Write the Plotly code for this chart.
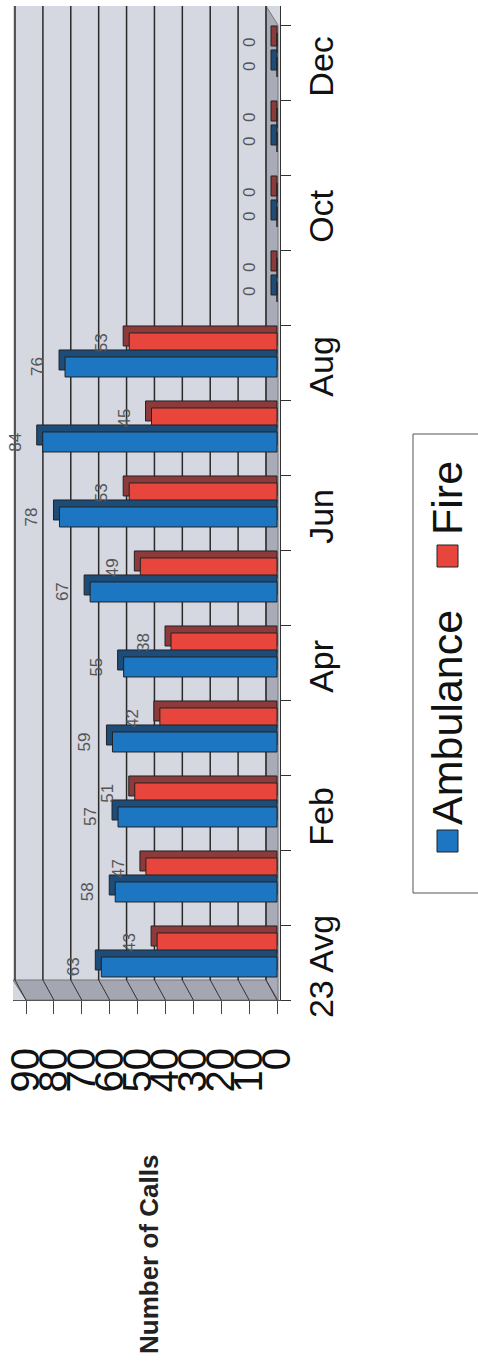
import plotly.graph_objects as go

# ---- data -------------------------------------------------------------
categories = ["23 Avg", "Jan", "Feb", "Mar", "Apr", "May", "Jun",
              "Jul", "Aug", "Sep", "Oct", "Nov", "Dec"]
ambulance = [63, 58, 57, 59, 55, 67, 78, 84, 76, 0, 0, 0, 0]
fire = [43, 47, 51, 42, 38, 49, 53, 45, 53, 0, 0, 0, 0]
value_ticks = [0, 10, 20, 30, 40, 50, 60, 70, 80, 90]
series_names = ["Ambulance", "Fire"]

# ---- styling ----------------------------------------------------------
W, H = 478, 1368
FONT = "Arial, Liberation Sans, sans-serif"
BLUE, BLUE_DARK = "#1c76c2", "#1d4c78"
RED, RED_DARK = "#e8463c", "#8c3a3a"
WALL = "#d5d7e1"
SIDE = "#a9abb8"

# pixel geometry of the plotting box
PX_LEFT, PX_RIGHT = 13, 280
PX_TOP, PX_BOTTOM = 6, 1000
PX_ZERO, PX_NINETY = 277, 26
SCALE = (PX_ZERO - PX_NINETY) / 90.0          # px per unit
CAT_PX = 75.0                                  # px per category

x_range = [(PX_ZERO - PX_LEFT) / SCALE, (PX_ZERO - PX_RIGHT) / SCALE]
y_range = [-0.5, -0.5 + (PX_BOTTOM - PX_TOP) / CAT_PX]

DEPTH_X = 6 / SCALE        # 3-D depth, value units
DEPTH_Y = 7 / CAT_PX       # 3-D depth, category units
BACK_X = 11 / SCALE        # back wall offset
BAR_W = 20 / CAT_PX


def xp(px):
    return px / W


def yp(py):
    return 1 - py / H


fig = go.Figure()

series = [
    ("Fire", fire, RED, RED_DARK, 0.127),
    ("Ambulance", ambulance, BLUE, BLUE_DARK, -0.193),
]
for name, vals, col, dark, off in series:
    # receding top/side face of each 3-D bar
    fig.add_trace(go.Bar(
        y=categories, x=[v + DEPTH_X for v in vals], orientation="h",
        offset=off + DEPTH_Y, width=BAR_W,
        marker=dict(color=dark, line=dict(color="#222", width=1)),
        hoverinfo="skip", showlegend=False,
    ))
    # front face
    fig.add_trace(go.Bar(
        y=categories, x=vals, orientation="h", name=name,
        offset=off, width=BAR_W,
        marker=dict(color=col, line=dict(color="#222", width=1)),
        showlegend=False,
    ))

annotations = []
# value labels, rotated with the chart
for name, vals, col, dark, off in series:
    for c, v in zip(categories, vals):
        annotations.append(dict(
            x=v, y=c, xref="x", yref="y", text=str(v), showarrow=False,
            xanchor="center", yanchor="middle",
            textangle=-90, xshift=-27, yshift=(off + BAR_W / 2) * CAT_PX,
            font=dict(family=FONT, size=17, color="#555"),
        ))

# axis title
annotations.append(dict(
    x=xp(149), y=yp(1255), xref="paper", yref="paper",
    xanchor="center", yanchor="middle",
    text="<b>Number of Calls</b>", showarrow=False, textangle=-90,
    font=dict(family=FONT, size=26, color="#222"),
))

shapes = []
# right side wall
shapes.append(dict(
    type="path", xref="paper", yref="paper", layer="between",
    path=f"M {xp(266)},{yp(PX_TOP)} L {xp(278)},{yp(25)} L {xp(278)},{yp(PX_BOTTOM)} "
         f"L {xp(266)},{yp(980)} Z",
    fillcolor=SIDE, line=dict(color="#777", width=1),
))
# floor
shapes.append(dict(
    type="path", xref="paper", yref="paper", layer="between",
    path=f"M {xp(PX_LEFT)},{yp(980)} L {xp(266)},{yp(980)} L {xp(278)},{yp(PX_BOTTOM)} "
         f"L {xp(PX_NINETY)},{yp(PX_BOTTOM)} Z",
    fillcolor="#a4a6b1", line=dict(color="#777", width=1),
))
# back-wall gridlines and their diagonals across the floor
for v in value_ticks:
    shapes.append(dict(
        type="line", xref="x", yref="paper", layer="between",
        x0=v + BACK_X, x1=v + BACK_X, y0=yp(PX_TOP), y1=yp(980),
        line=dict(color="#2a2a2a", width=1.5),
    ))
    shapes.append(dict(
        type="line", xref="x", yref="paper", layer="between",
        x0=v + BACK_X, x1=v, y0=yp(980), y1=yp(PX_BOTTOM),
        line=dict(color="#333", width=1),
    ))

# legend, rotated with the chart
shapes.append(dict(
    type="rect", xref="paper", yref="paper",
    x0=xp(413), x1=xp(500), y0=yp(893), y1=yp(434),
    line=dict(color="#555", width=1), fillcolor="rgba(0,0,0,0)",
))
legend_items = [
    (series_names[0], BLUE, 841, 718),
    (series_names[1], RED, 556, 498),
]
for name, col, sq_y, txt_y in legend_items:
    shapes.append(dict(
        type="rect", xref="paper", yref="paper",
        x0=xp(437), x1=xp(458), y0=yp(sq_y + 11), y1=yp(sq_y - 11),
        fillcolor=col, line=dict(color="#222", width=1),
    ))
    annotations.append(dict(
        x=xp(447), y=yp(txt_y), xref="paper", yref="paper", text=name,
        xanchor="center", yanchor="middle",
        showarrow=False, textangle=-90,
        font=dict(family=FONT, size=43, color="#111"),
    ))

fig.update_layout(
    template="none",
    width=W, height=H,
    margin=dict(l=0, r=0, t=0, b=0, autoexpand=False),
    paper_bgcolor="white", plot_bgcolor=WALL,
    barmode="overlay",
    showlegend=False,
    shapes=shapes, annotations=annotations,
    xaxis=dict(
        domain=[xp(PX_LEFT), xp(PX_RIGHT)], range=x_range, automargin=False,
        tickvals=value_ticks, ticktext=[str(t) for t in value_ticks],
        tickangle=-90, ticks="outside", ticklen=13, tickcolor="#444",
        ticklabelstandoff=18,
        showgrid=False, zeroline=False, showline=True, linecolor="#555",
        tickfont=dict(family=FONT, size=40, color="#111"),
    ),
    yaxis=dict(
        domain=[yp(PX_BOTTOM), yp(PX_TOP)], range=y_range, automargin=False,
        type="category", categoryorder="array", categoryarray=categories,
        side="right", anchor="x",
        tickvals=categories,
        ticktext=[c if i % 2 == 0 else "" for i, c in enumerate(categories)],
        tickson="boundaries", ticks="outside", ticklen=10, tickcolor="#333",
        tickangle=-90, ticklabelstandoff=11, ticklabelshift=9,
        showgrid=False, zeroline=False, showline=True, linecolor="#333",
        tickfont=dict(family=FONT, size=34, color="#111"),
    ),
)

fig.write_html("out.html")
